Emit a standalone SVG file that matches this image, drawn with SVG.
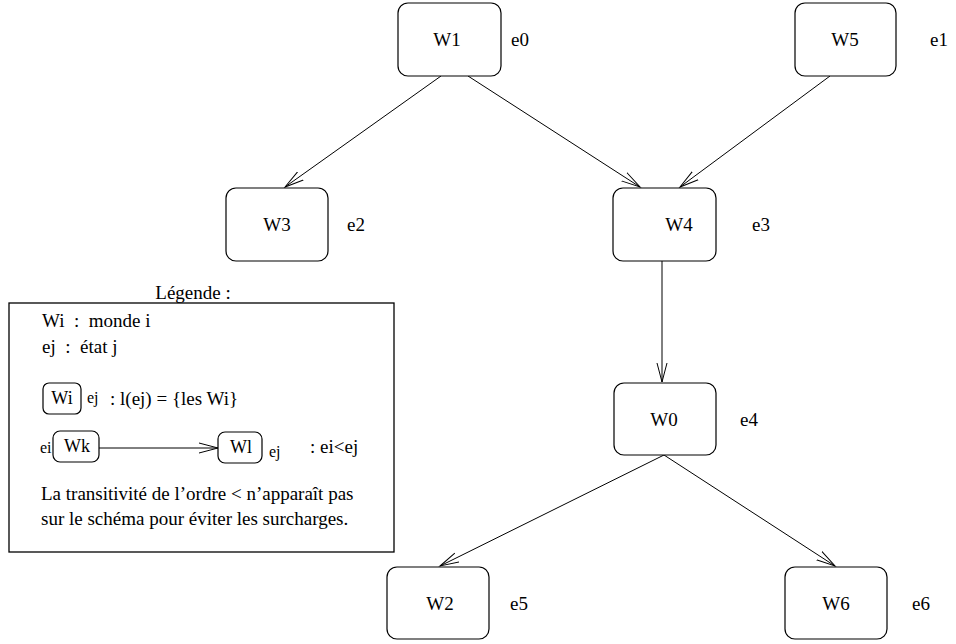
<svg xmlns="http://www.w3.org/2000/svg" width="956" height="644" viewBox="0 0 956 644">
<defs>
<style>
.box{fill:#fff;stroke:#000;stroke-width:1.2}
.t{font-family:"Liberation Serif","Times New Roman",serif;font-size:19px;fill:#000}
.mt{font-family:"Liberation Serif","Times New Roman",serif;font-size:18px;fill:#000}
.st{font-family:"Liberation Serif","Times New Roman",serif;font-size:16px;fill:#000}
.edge{fill:none;stroke:#000;stroke-width:1}
</style>
<marker id="arr" markerUnits="userSpaceOnUse" markerWidth="22" markerHeight="14" refX="19" refY="6" orient="auto">
<path d="M0,1 L19,6 L0,11" fill="none" stroke="#000" stroke-width="1"/>
</marker>
</defs>
<rect width="956" height="644" fill="#fff"/>
<g id="connectors">
<line class="edge" x1="441" y1="76" x2="285" y2="187" marker-end="url(#arr)"/>
<line class="edge" x1="468" y1="76" x2="640" y2="187" marker-end="url(#arr)"/>
<line class="edge" x1="830" y1="76" x2="680" y2="187" marker-end="url(#arr)"/>
<line class="edge" x1="662" y1="261" x2="662" y2="382" marker-end="url(#arr)"/>
<line class="edge" x1="664" y1="455" x2="440" y2="566" marker-end="url(#arr)"/>
<line class="edge" x1="664" y1="455" x2="835" y2="566" marker-end="url(#arr)"/>
</g>
<g id="W1"><rect class="box" x="398" y="3" width="103" height="73" rx="10"/><text class="t" x="447" y="46" text-anchor="middle">W1</text><text class="t" x="511" y="46">e0</text></g>
<g id="W5"><rect class="box" x="795" y="3" width="101" height="73" rx="10"/><text class="t" x="845" y="46" text-anchor="middle">W5</text><text class="t" x="930" y="46">e1</text></g>
<g id="W3"><rect class="box" x="226" y="188" width="102" height="73" rx="10"/><text class="t" x="277" y="231" text-anchor="middle">W3</text><text class="t" x="347" y="231">e2</text></g>
<g id="W4"><rect class="box" x="613" y="188" width="103" height="73" rx="10"/><text class="t" x="679" y="231" text-anchor="middle">W4</text><text class="t" x="752" y="231">e3</text></g>
<g id="W0"><rect class="box" x="614" y="383" width="102" height="72" rx="10"/><text class="t" x="664" y="426" text-anchor="middle">W0</text><text class="t" x="740" y="426">e4</text></g>
<g id="W2"><rect class="box" x="387" y="567" width="102" height="72" rx="10"/><text class="t" x="440" y="610" text-anchor="middle">W2</text><text class="t" x="510" y="610">e5</text></g>
<g id="W6"><rect class="box" x="785" y="567" width="102" height="72" rx="10"/><text class="t" x="836" y="610" text-anchor="middle">W6</text><text class="t" x="912" y="610">e6</text></g>
<g id="legend">
<text class="t" x="193" y="299" text-anchor="middle">Légende :</text>
<rect x="9" y="303" width="385" height="249" fill="none" stroke="#000" stroke-width="1.3"/>
<text class="t" x="42" y="327" xml:space="preserve">Wi  :  monde i</text>
<text class="t" x="42" y="353" xml:space="preserve">ej  :  état j</text>
<rect class="box" x="43" y="383" width="38" height="31" rx="6"/>
<text class="mt" x="62" y="404" text-anchor="middle">Wi</text>
<text class="st" x="87" y="403">ej</text>
<text class="t" x="110" y="405">: l(ej) = {les Wi}</text>
<text class="st" x="40" y="453">ei</text>
<rect class="box" x="53" y="431" width="46" height="31" rx="7"/>
<text class="mt" x="77" y="452" text-anchor="middle">Wk</text>
<line class="edge" x1="99" y1="448" x2="218" y2="448" marker-end="url(#arr)"/>
<rect class="box" x="218" y="432" width="44" height="31" rx="7"/>
<text class="mt" x="241" y="453" text-anchor="middle">Wl</text>
<text class="st" x="269" y="457">ej</text>
<text class="t" x="310" y="453">: ei&lt;ej</text>
<text class="t" x="41" y="500">La transitivité de l’ordre &lt; n’apparaît pas</text>
<text class="t" x="41" y="525">sur le schéma pour éviter les surcharges.</text>
</g>
</svg>
